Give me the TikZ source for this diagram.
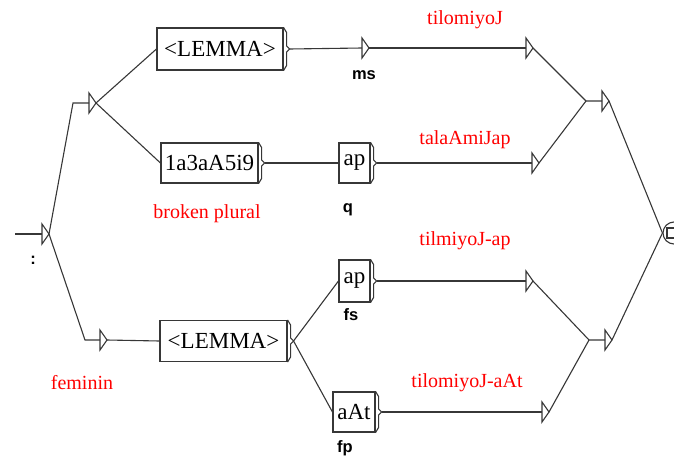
\documentclass[tikz,border=0pt]{standalone}
\usepackage{fontspec}
\setmainfont{Liberation Serif}
\newfontfamily\lblfont{Liberation Sans}
\usetikzlibrary{calc}
\definecolor{ln}{RGB}{55,55,55}
\definecolor{outred}{RGB}{255,0,0}
% empty box (triangle): base-middle coordinate #1, tip coordinate #1t
\newcommand\etri[3]{%
  \coordinate (#1) at (#2,#3);
  \coordinate (#1t) at ($(#1)+(7,0)$);
  \draw[conn] ($(#1)+(0,-10)$) -- ($(#1)+(0,10)$) -- (#1t) -- cycle;}
% output bracket on the right side of a box, output coordinate #1o
\newcommand\brk[1]{%
  \coordinate (#1o) at ($(#1.east)+(6,0)$);
  \draw[conn] (#1.north east) -- ++(3,5) -- ($(#1.east)+(3,-3)$) -- (#1o)
    -- ($(#1.east)+(3,3)$) -- ($(#1.south east)+(3,-5)$) -- (#1.south east);}
\begin{document}
\begin{tikzpicture}[x=1pt,y=-1pt,
  conn/.style={draw=ln, line width=1.1pt},
  box/.style={draw=ln, line width=1.1pt, rectangle, inner sep=0pt,
    font=\fontsize{23}{26}\selectfont, text=black},
  outtxt/.style={text=outred, font=\fontsize{20}{24}\selectfont},
  tag/.style={font=\lblfont\bfseries\fontsize{16.5}{19}\selectfont}]
\useasboundingbox (0,0) rectangle (674,460);

% boxes
\node[box, minimum width=126pt, minimum height=42pt] (L1) at (220,49) {<LEMMA>};
\node[box, minimum width=97pt, minimum height=40pt] (B) at (209.5,163) {1a3aA5i9};
\node[box, minimum width=31pt, minimum height=40pt] (ap1) at (354.5,163) {ap};
\node[box, minimum width=31pt, minimum height=42pt] (ap2) at (354.5,281) {ap};
\node[box, minimum width=127pt, minimum height=41pt] (L2) at (223.5,341) {<LEMMA>};
\node[box, minimum width=42pt, minimum height=40pt] (aAt) at (354,412) {aAt};
\brk{L1} \brk{B} \brk{ap1} \brk{ap2} \brk{L2} \brk{aAt}

% empty boxes
\coordinate (s0) at (15,234);
\etri{i0}{42}{234}
\etri{e1}{89}{103}
\etri{e2}{100}{340}
\etri{ms}{362}{48}
\etri{t1}{526}{48}
\etri{t2}{532}{163}
\etri{t3}{526}{281}
\etri{t4}{542}{412}
\etri{m1}{602}{101}
\etri{m2}{605}{340}

% final state
\node[circle, draw=ln, line width=1.1pt, minimum size=22pt, inner sep=0pt] (fin) at (674,233) {};
\draw[conn] (667,228) rectangle (677,238);

% bend points
\coordinate (b1) at (73,103);
\coordinate (b2) at (85,340);
\coordinate (j1) at (586,101);
\coordinate (j2) at (589,340);

% connectors
\draw[conn] (s0) -- (i0);
\draw[conn] (i0t) -- (b1) -- (e1);
\draw[conn] (i0t) -- (b2) -- (e2);
\draw[conn] (e1t) -- (L1.west);
\draw[conn] (e1t) -- (B.west);
\draw[conn] (e2t) -- (L2.west);
\draw[conn] (L1o) -- (ms);
\draw[conn] (mst) -- (t1);
\draw[conn] (Bo) -- (ap1.west);
\draw[conn] (ap1o) -- (t2);
\draw[conn] (L2o) -- (ap2.west);
\draw[conn] (L2o) -- (aAt.west);
\draw[conn] (ap2o) -- (t3);
\draw[conn] (aAto) -- (t4);
\draw[conn] (t1t) -- (j1) -- (m1);
\draw[conn] (t2t) -- (j1);
\draw[conn] (t3t) -- (j2) -- (m2);
\draw[conn] (t4t) -- (j2);
\draw[conn] (m1t) -- (fin.west);
\draw[conn] (m2t) -- (fin.west);

% outputs and labels
\node[outtxt] (o1) at (465,20) {tilomiyoJ};
\node[outtxt] (o2) at (465,140) {talaAmiJap};
\node[outtxt] (o3) at (465,241) {tilmiyoJ-ap};
\node[outtxt] (o4) at (467,383) {tilomiyoJ-aAt};
\node[outtxt] (c1) at (207,214) {broken plural};
\node[outtxt] (c2) at (82,383) {feminin};
\node[tag] (g1) at (364,75) {ms};
\node[tag] (g2) at (348,210) {q};
\node[tag] (g3) at (351,315) {fs};
\node[tag] (g4) at (345,448) {fp};
\node[tag] (g5) at (33,260) {:};
\end{tikzpicture}
\end{document}
